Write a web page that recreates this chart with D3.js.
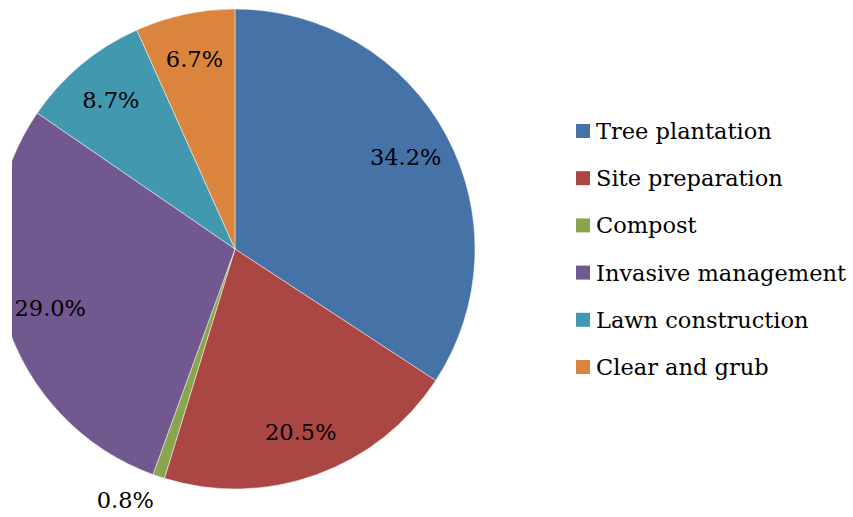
<!DOCTYPE html>
<html>
<head>
<meta charset="utf-8">
<script src="https://cdn.jsdelivr.net/npm/d3@7"></script>
<style>
  html, body { margin: 0; padding: 0; background: #fff; }
  svg { display: block; }
  text { font-family: "DejaVu Serif", "Liberation Serif", serif; fill: #000; }
</style>
</head>
<body>
<svg id="chart" width="853" height="517"></svg>
<script>
// Cost share by activity (percent)
const categories = ["Tree plantation", "Site preparation", "Compost", "Invasive management", "Lawn construction", "Clear and grub"];
const shares = [34.2, 20.5, 0.8, 29.0, 8.7, 6.7];
const sliceColors = ["#4572A7", "#AA4643", "#89A54E", "#71588F", "#4198AF", "#DB843D"];
const outsideLabels = ["Compost"];

const W = 853, H = 517;
const cx = 235, cy = 249, R = 240;
const fontSize = 22.5;

const svg = d3.select("#chart");

// plot area clips the left edge of the pie
svg.append("defs").append("clipPath").attr("id", "plotClip")
  .append("rect").attr("x", 12).attr("y", 0).attr("width", 540).attr("height", H);

const data = categories.map((c, i) => ({ name: c, value: shares[i], color: sliceColors[i] }));

const pie = d3.pie().value(d => d.value).sort(null);
const arcs = pie(data);
const arc = d3.arc().innerRadius(0).outerRadius(R);
const labelArc = d3.arc().innerRadius(194).outerRadius(194);
const outerArc = d3.arc().innerRadius(R + 15).outerRadius(R + 15);

const g = svg.append("g").attr("clip-path", "url(#plotClip)")
  .append("g").attr("transform", `translate(${cx},${cy})`);

g.selectAll("path.slice").data(arcs).enter().append("path")
  .attr("class", "slice")
  .attr("d", arc)
  .attr("fill", d => d.data.color)
  .attr("stroke", "#ffffff")
  .attr("stroke-opacity", 0.6)
  .attr("stroke-width", 0.8);

const fmt = v => v.toFixed(1) + "%";

const labels = svg.append("g").attr("transform", `translate(${cx},${cy})`);

// inside labels, centred on the slice
labels.selectAll("text.inside")
  .data(arcs.filter(d => !outsideLabels.includes(d.data.name)))
  .enter().append("text")
  .attr("class", "inside")
  .attr("transform", d => `translate(${labelArc.centroid(d)})`)
  .attr("text-anchor", "middle")
  .attr("dominant-baseline", "central")
  .attr("font-size", fontSize)
  .text(d => fmt(d.data.value));

// outside-end labels: nearest corner of the text touches the point just past the rim
labels.selectAll("text.outside")
  .data(arcs.filter(d => outsideLabels.includes(d.data.name)))
  .enter().append("text")
  .attr("class", "outside")
  .attr("transform", d => `translate(${outerArc.centroid(d)})`)
  .attr("text-anchor", d => Math.sin((d.startAngle + d.endAngle) / 2) < 0 ? "end" : "start")
  .attr("dominant-baseline", d => -Math.cos((d.startAngle + d.endAngle) / 2) > 0 ? "hanging" : "auto")
  .attr("font-size", fontSize)
  .text(d => fmt(d.data.value));

// legend
const legend = svg.append("g").attr("transform", "translate(576,131)");
const rowH = 47.2;
const item = legend.selectAll("g").data(data).enter().append("g")
  .attr("transform", (d, i) => `translate(0,${i * rowH})`);
item.append("rect")
  .attr("x", 0).attr("y", -7).attr("width", 14).attr("height", 14)
  .attr("fill", d => d.color);
item.append("text")
  .attr("x", 20).attr("y", 0)
  .attr("dominant-baseline", "central")
  .attr("font-size", fontSize)
  .text(d => d.name);
</script>
</body>
</html>
